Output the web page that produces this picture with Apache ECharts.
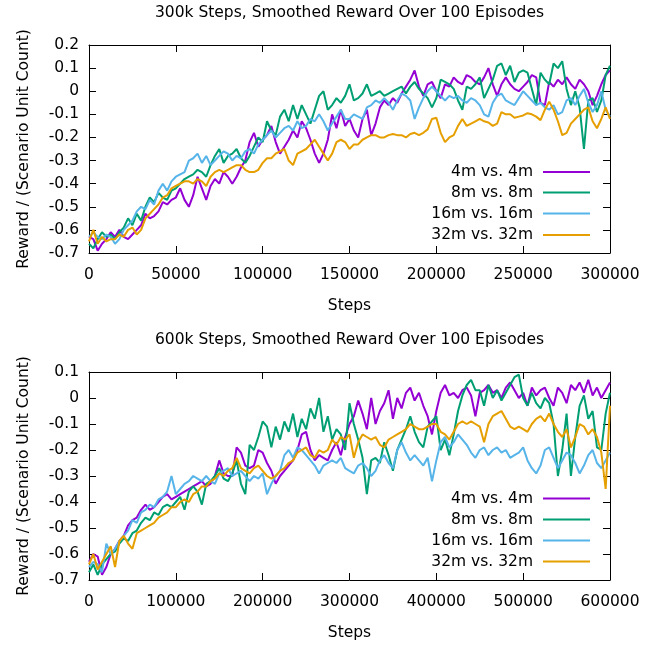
<!DOCTYPE html>
<html><head><meta charset="utf-8">
<script src="https://cdn.jsdelivr.net/npm/echarts@6/dist/echarts.min.js"></script>
<style>html,body{margin:0;padding:0;background:#fff}#c{width:654px;height:645px}</style>
</head><body><div id="c"></div>
<script>
const names = ['4m vs. 4m', '8m vs. 8m', '16m vs. 16m', '32m vs. 32m'];
const colors = ['#9400d3', '#009e73', '#56b4e9', '#e69f00'];
const titles = ['300k Steps, Smoothed Reward Over 100 Episodes', '600k Steps, Smoothed Reward Over 100 Episodes'];
const xName = 'Steps';
const yName = 'Reward / (Scenario Unit Count)';

// x grids (steps): 2500-step spacing for 300k run, 5000 for 600k run
const stepsTop = Array.from({length: 121}, (_, i) => i * 2500);
const stepsBot = Array.from({length: 121}, (_, i) => i * 5000);

// 300k plot
const top4m = [-0.63,-0.64,-0.69,-0.66,-0.64,-0.61,-0.63,-0.6,-0.63,-0.64,-0.62,-0.6,-0.58,-0.53,-0.55,-0.54,-0.52,-0.48,-0.49,-0.47,-0.46,-0.42,-0.47,-0.5,-0.45,-0.37,-0.42,-0.47,-0.41,-0.38,-0.4,-0.35,-0.37,-0.4,-0.37,-0.33,-0.3,-0.22,-0.18,-0.24,-0.21,-0.19,-0.15,-0.22,-0.27,-0.24,-0.21,-0.17,-0.2,-0.13,-0.16,-0.21,-0.27,-0.31,-0.27,-0.21,-0.1,-0.16,-0.08,-0.15,-0.12,-0.17,-0.2,-0.12,-0.08,-0.19,-0.14,-0.07,-0.04,-0.06,-0.03,-0.05,-0.01,0.02,0.05,0.09,0.02,-0.02,0.03,0.04,0.0,-0.03,0.03,0.02,0.06,0.04,0.03,0.07,0.06,0.04,0.03,0.06,0.1,0.03,-0.02,0.03,0.06,0.03,0.01,0.0,0.02,0.04,0.07,0.06,-0.05,-0.06,0.04,0.02,0.05,0.03,0.06,0.03,0.01,0.05,0.03,0.0,-0.06,-0.02,0.03,0.07,0.09];
const top8m = [-0.66,-0.68,-0.64,-0.61,-0.63,-0.62,-0.64,-0.61,-0.59,-0.55,-0.58,-0.53,-0.56,-0.5,-0.46,-0.48,-0.44,-0.46,-0.47,-0.43,-0.42,-0.4,-0.38,-0.37,-0.36,-0.34,-0.35,-0.37,-0.32,-0.28,-0.25,-0.31,-0.28,-0.27,-0.25,-0.29,-0.31,-0.28,-0.24,-0.2,-0.22,-0.13,-0.17,-0.19,-0.11,-0.08,-0.13,-0.06,-0.12,-0.06,-0.1,-0.14,-0.08,-0.02,0.0,-0.08,-0.06,-0.03,-0.05,-0.02,0.03,-0.04,-0.03,-0.01,0.03,-0.02,-0.01,0.0,-0.02,-0.01,0.0,0.01,0.02,-0.01,0.02,0.04,0.01,-0.01,-0.03,-0.07,-0.03,0.05,0.04,0.03,0.01,-0.04,-0.08,0.02,0.01,0.03,0.06,-0.03,0.01,0.05,0.11,0.12,0.07,0.11,0.04,0.08,0.09,0.08,0.01,-0.06,0.08,0.05,0.03,0.12,0.1,0.13,0.01,-0.06,0.0,-0.07,-0.25,-0.04,-0.03,-0.09,-0.04,0.07,0.11];
const top16m = [-0.63,-0.61,-0.63,-0.64,-0.62,-0.63,-0.66,-0.64,-0.6,-0.58,-0.56,-0.52,-0.5,-0.51,-0.47,-0.49,-0.43,-0.4,-0.43,-0.39,-0.37,-0.36,-0.35,-0.3,-0.29,-0.27,-0.31,-0.28,-0.32,-0.3,-0.28,-0.26,-0.27,-0.3,-0.28,-0.29,-0.26,-0.25,-0.27,-0.23,-0.21,-0.19,-0.17,-0.2,-0.18,-0.16,-0.15,-0.17,-0.13,-0.16,-0.15,-0.12,-0.13,-0.1,-0.13,-0.17,-0.14,-0.11,-0.08,-0.12,-0.12,-0.1,-0.11,-0.12,-0.07,-0.06,-0.04,-0.05,-0.03,-0.05,-0.08,-0.04,-0.01,-0.02,-0.04,-0.12,-0.07,-0.03,0.0,0.02,0.0,-0.02,-0.04,-0.02,-0.03,-0.02,-0.04,-0.05,-0.03,-0.04,-0.06,-0.1,-0.11,-0.05,-0.02,-0.01,-0.04,-0.05,-0.06,-0.03,0.0,-0.02,-0.04,-0.06,-0.05,-0.07,-0.08,-0.06,-0.1,-0.09,-0.04,-0.03,-0.06,-0.02,0.01,-0.05,-0.09,-0.06,0.0,-0.08,-0.11];
const top32m = [-0.65,-0.6,-0.66,-0.63,-0.65,-0.64,-0.64,-0.62,-0.63,-0.6,-0.59,-0.62,-0.6,-0.55,-0.53,-0.51,-0.49,-0.46,-0.45,-0.42,-0.41,-0.4,-0.39,-0.39,-0.4,-0.38,-0.39,-0.41,-0.37,-0.35,-0.34,-0.35,-0.34,-0.33,-0.32,-0.32,-0.34,-0.35,-0.35,-0.34,-0.31,-0.29,-0.29,-0.27,-0.26,-0.25,-0.3,-0.32,-0.27,-0.26,-0.25,-0.23,-0.21,-0.24,-0.27,-0.3,-0.27,-0.22,-0.21,-0.22,-0.25,-0.23,-0.23,-0.21,-0.2,-0.19,-0.19,-0.2,-0.2,-0.19,-0.185,-0.19,-0.19,-0.2,-0.185,-0.18,-0.19,-0.18,-0.165,-0.12,-0.115,-0.18,-0.22,-0.2,-0.19,-0.15,-0.12,-0.15,-0.14,-0.13,-0.12,-0.13,-0.135,-0.15,-0.14,-0.09,-0.1,-0.1,-0.115,-0.11,-0.105,-0.095,-0.1,-0.11,-0.125,-0.08,-0.045,-0.08,-0.13,-0.19,-0.18,-0.14,-0.12,-0.1,-0.08,-0.07,-0.13,-0.16,-0.12,-0.07,-0.12];

// 600k plot
const bot4m = [-0.63,-0.6,-0.61,-0.68,-0.65,-0.6,-0.58,-0.55,-0.53,-0.49,-0.47,-0.46,-0.43,-0.41,-0.43,-0.42,-0.4,-0.38,-0.37,-0.39,-0.38,-0.37,-0.36,-0.35,-0.34,-0.33,-0.32,-0.34,-0.33,-0.3,-0.24,-0.29,-0.3,-0.3,-0.19,-0.21,-0.26,-0.27,-0.26,-0.2,-0.21,-0.25,-0.28,-0.33,-0.3,-0.28,-0.26,-0.24,-0.2,-0.14,-0.13,-0.2,-0.24,-0.22,-0.23,-0.24,-0.2,-0.17,-0.22,-0.15,-0.1,-0.07,-0.01,-0.06,-0.12,0.0,-0.1,-0.05,-0.02,0.03,-0.08,0.0,-0.04,0.02,0.04,-0.01,0.02,-0.03,-0.07,-0.14,-0.05,0.02,0.05,0.01,0.02,0.0,0.03,0.04,0.01,-0.07,0.02,0.03,0.05,0.02,0.03,0.0,0.04,0.06,0.03,0.0,0.02,-0.03,0.04,0.01,0.03,0.04,0.0,-0.03,0.04,0.02,-0.02,0.05,0.03,0.06,0.02,0.07,0.01,0.04,0.0,0.03,0.06];
const bot8m = [-0.67,-0.64,-0.68,-0.64,-0.62,-0.6,-0.59,-0.56,-0.54,-0.55,-0.52,-0.51,-0.48,-0.46,-0.47,-0.44,-0.45,-0.42,-0.41,-0.42,-0.4,-0.38,-0.43,-0.36,-0.34,-0.36,-0.41,-0.33,-0.32,-0.3,-0.27,-0.31,-0.32,-0.29,-0.24,-0.33,-0.37,-0.18,-0.2,-0.15,-0.09,-0.11,-0.19,-0.11,-0.16,-0.09,-0.13,-0.06,-0.15,-0.08,-0.12,-0.04,-0.08,0.0,-0.13,-0.07,-0.16,-0.12,-0.14,-0.2,-0.02,-0.1,-0.16,-0.23,-0.37,-0.24,-0.23,-0.25,-0.17,-0.22,-0.28,-0.2,-0.16,-0.12,-0.07,-0.13,-0.17,-0.19,-0.11,-0.09,-0.07,-0.2,-0.16,-0.22,-0.14,-0.05,0.01,0.05,0.07,0.03,0.03,-0.03,0.05,0.0,0.03,-0.01,0.02,0.05,0.08,0.09,0.0,-0.03,0.02,-0.02,-0.04,0.0,-0.02,-0.1,-0.3,-0.2,-0.06,-0.3,-0.15,-0.03,0.01,-0.08,-0.05,-0.19,-0.2,-0.06,0.02];
const bot16m = [-0.65,-0.63,-0.64,-0.67,-0.56,-0.6,-0.58,-0.55,-0.53,-0.51,-0.47,-0.48,-0.44,-0.43,-0.41,-0.42,-0.39,-0.38,-0.36,-0.3,-0.37,-0.35,-0.33,-0.32,-0.3,-0.31,-0.32,-0.3,-0.32,-0.33,-0.29,-0.28,-0.27,-0.3,-0.29,-0.28,-0.3,-0.32,-0.3,-0.31,-0.29,-0.37,-0.33,-0.3,-0.28,-0.22,-0.2,-0.23,-0.19,-0.2,-0.22,-0.24,-0.26,-0.29,-0.26,-0.25,-0.24,-0.25,-0.23,-0.27,-0.28,-0.29,-0.26,-0.25,-0.27,-0.3,-0.28,-0.24,-0.22,-0.25,-0.27,-0.2,-0.17,-0.21,-0.24,-0.22,-0.24,-0.26,-0.23,-0.32,-0.24,-0.17,-0.15,-0.19,-0.17,-0.14,-0.16,-0.18,-0.21,-0.23,-0.2,-0.19,-0.22,-0.2,-0.19,-0.21,-0.2,-0.23,-0.22,-0.21,-0.19,-0.24,-0.27,-0.29,-0.26,-0.2,-0.19,-0.23,-0.27,-0.24,-0.21,-0.22,-0.25,-0.29,-0.26,-0.22,-0.2,-0.25,-0.27,-0.24,-0.21];
const bot32m = [-0.64,-0.6,-0.66,-0.63,-0.6,-0.57,-0.65,-0.55,-0.53,-0.56,-0.58,-0.52,-0.51,-0.5,-0.49,-0.48,-0.46,-0.45,-0.44,-0.42,-0.42,-0.4,-0.39,-0.4,-0.37,-0.36,-0.34,-0.34,-0.32,-0.31,-0.29,-0.3,-0.28,-0.27,-0.23,-0.27,-0.28,-0.29,-0.27,-0.26,-0.28,-0.3,-0.31,-0.3,-0.28,-0.27,-0.25,-0.24,-0.21,-0.2,-0.19,-0.22,-0.23,-0.2,-0.21,-0.2,-0.16,-0.18,-0.15,-0.16,-0.14,-0.23,-0.17,-0.14,-0.15,-0.16,-0.15,-0.18,-0.19,-0.16,-0.15,-0.14,-0.13,-0.12,-0.1,-0.11,-0.12,-0.12,-0.11,-0.1,-0.1,-0.13,-0.14,-0.16,-0.13,-0.1,-0.09,-0.1,-0.09,-0.1,-0.11,-0.17,-0.1,-0.07,-0.06,-0.05,-0.08,-0.11,-0.12,-0.11,-0.12,-0.13,-0.1,-0.08,-0.07,-0.09,-0.06,-0.1,-0.13,-0.15,-0.12,-0.19,-0.15,-0.1,-0.11,-0.14,-0.12,-0.15,-0.21,-0.35,-0.03];

const plots = [
  {steps: stepsTop, series: [top4m, top8m, top16m, top32m], xMax: 300000, xInt: 50000, yMin: -0.7, yMax: 0.2, grid: {left: 89, width: 521, top: 45, height: 208}, title: titles[0], titleTop: 5, legendRows: [172, 192.5, 213.5, 235]},
  {steps: stepsBot, series: [bot4m, bot8m, bot16m, bot32m], xMax: 600000, xInt: 100000, yMin: -0.7, yMax: 0.1, grid: {left: 89, width: 521, top: 372, height: 208}, title: titles[1], titleTop: 332, legendRows: [498.5, 519.5, 540.5, 561.5]}
];

const FONT = 'DejaVu Sans';
const FS = 15.5;
const txt = {fontFamily: FONT, fontSize: FS, color: '#000'};
const lineAx = {show: true, onZero: false, lineStyle: {color: '#000', width: 1}};
const tickAx = {show: true, inside: true, length: 7, lineStyle: {color: '#000', width: 1}};

const option = {
  animation: false,
  backgroundColor: '#fff',
  title: [], grid: [], xAxis: [], yAxis: [], legend: [], series: []
};

plots.forEach((p, pi) => {
  option.title.push({text: p.title, left: 349.5, top: p.titleTop, textAlign: 'center', padding: 0,
    textStyle: Object.assign({fontWeight: 'normal'}, txt)});
  option.grid.push(Object.assign({containLabel: false}, p.grid));
  option.xAxis.push({gridIndex: pi, type: 'value', position: 'bottom', min: 0, max: p.xMax, interval: p.xInt,
    name: xName, nameLocation: 'middle', nameGap: 45, nameTextStyle: txt,
    axisLine: lineAx, axisTick: tickAx,
    axisLabel: Object.assign({margin: 14, showMinLabel: true, showMaxLabel: true, formatter: v => String(v)}, txt),
    splitLine: {show: false}});
  option.xAxis.push({gridIndex: pi, type: 'value', position: 'top', min: 0, max: p.xMax, interval: p.xInt,
    axisLine: lineAx, axisTick: tickAx, axisLabel: {show: false}, splitLine: {show: false}});
  option.yAxis.push({gridIndex: pi, type: 'value', position: 'left', min: p.yMin, max: p.yMax, interval: 0.1,
    name: yName, nameLocation: 'middle', nameRotate: 90, nameGap: 57, nameTextStyle: txt,
    axisLine: lineAx, axisTick: tickAx,
    axisLabel: Object.assign({margin: 10, showMinLabel: true, showMaxLabel: true,
      formatter: v => String(Math.round(v * 10) / 10)}, txt),
    splitLine: {show: false}});
  option.yAxis.push({gridIndex: pi, type: 'value', position: 'right', min: p.yMin, max: p.yMax, interval: 0.1,
    axisLine: lineAx, axisTick: tickAx, axisLabel: {show: false}, splitLine: {show: false}});
  p.series.forEach((vals, si) => {
    option.series.push({
      type: 'line', name: names[si], xAxisIndex: pi * 2, yAxisIndex: pi * 2,
      data: p.steps.map((s, k) => [s, vals[k]]),
      showSymbol: false, symbol: 'none',
      lineStyle: {width: 2, color: colors[si]}, itemStyle: {color: colors[si]},
      emphasis: {disabled: true}
    });
  });
  p.legendRows.forEach((y, si) => {
    option.legend.push({
      data: [names[si]], right: 64, top: y - 8, padding: 0, orient: 'horizontal',
      align: 'right', icon: 'rect', itemWidth: 47, itemHeight: 2, selectedMode: false,
      textStyle: Object.assign({padding: [0, 5, 0, 0]}, txt)
    });
  });
});

const chart = echarts.init(document.getElementById('c'));
chart.setOption(option);
</script>
</body></html>
